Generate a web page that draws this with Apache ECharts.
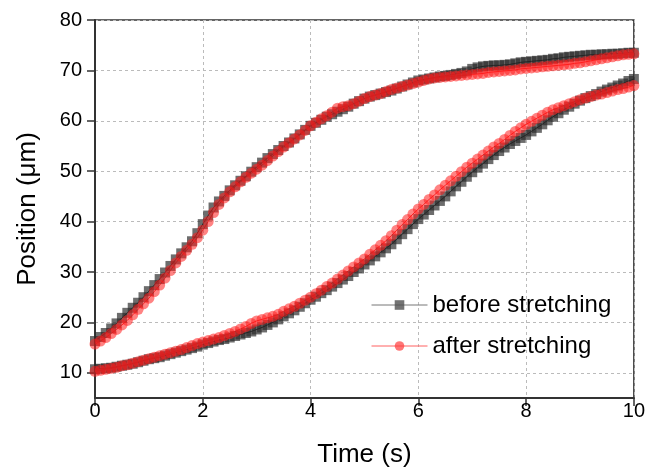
<!DOCTYPE html>
<html>
<head>
<meta charset="utf-8">
<script src="https://cdn.jsdelivr.net/npm/echarts@6/dist/echarts.min.js"></script>
<style>html,body{margin:0;padding:0;background:#fff;}#c{width:648px;height:473px;}</style>
</head>
<body>
<div id="c"></div>
<script>
var time = [0.0,0.1,0.2,0.3,0.4,0.5,0.6,0.7,0.8,0.9,1.0,
1.1,1.2,1.3,1.4,1.5,1.6,1.7,1.8,1.9,2.0,
2.1,2.2,2.3,2.4,2.5,2.6,2.7,2.8,2.9,3.0,
3.1,3.2,3.3,3.4,3.5,3.6,3.7,3.8,3.9,4.0,
4.1,4.2,4.3,4.4,4.5,4.6,4.7,4.8,4.9,5.0,
5.1,5.2,5.3,5.4,5.5,5.6,5.7,5.8,5.9,6.0,
6.1,6.2,6.3,6.4,6.5,6.6,6.7,6.8,6.9,7.0,
7.1,7.2,7.3,7.4,7.5,7.6,7.7,7.8,7.9,8.0,
8.1,8.2,8.3,8.4,8.5,8.6,8.7,8.8,8.9,9.0,
9.1,9.2,9.3,9.4,9.5,9.6,9.7,9.8,9.9,10.0];

// upper trajectory, before stretching
var beforeUpper = [16.3,17.1,17.9,18.8,19.8,20.9,21.9,22.9,23.9,25.0,26.2,
27.4,28.6,29.9,31.2,32.5,33.7,34.9,36.1,37.7,39.5,
41.2,42.8,44.0,45.1,46.2,47.2,48.1,49.0,49.9,50.8,
51.7,52.6,53.4,54.2,55.0,55.7,56.5,57.3,58.2,59.0,
59.6,60.2,60.8,61.3,61.8,62.3,62.8,63.4,63.9,64.4,
64.8,65.1,65.4,65.7,66.0,66.4,66.8,67.2,67.6,68.0,
68.2,68.4,68.6,68.8,68.9,69.1,69.3,69.5,69.8,70.3,
70.6,70.8,70.9,71.0,71.0,71.1,71.2,71.4,71.6,71.7,
71.8,71.9,72.0,72.1,72.3,72.4,72.6,72.7,72.8,72.9,
73.0,73.1,73.1,73.2,73.2,73.3,73.3,73.4,73.5,73.5];

// lower trajectory, before stretching
var beforeLower = [10.7,10.8,10.9,11.0,11.2,11.4,11.6,11.8,12.1,12.4,12.7,
12.9,13.1,13.4,13.7,14.0,14.3,14.6,14.9,15.2,15.6,
15.9,16.2,16.5,16.7,17.0,17.3,17.6,17.9,18.2,18.6,
19.0,19.5,20.0,20.6,21.2,21.8,22.4,23.1,23.8,24.5,
25.1,25.8,26.4,27.1,27.8,28.5,29.2,30.0,30.7,31.5,
32.3,33.1,33.9,34.7,35.5,36.5,37.5,38.5,39.5,40.5,
41.4,42.3,43.2,44.1,45.0,46.0,47.0,47.9,48.9,49.8,
50.7,51.5,52.4,53.2,54.0,54.7,55.4,56.0,56.6,57.2,
57.9,58.6,59.3,60.1,60.8,61.5,62.2,62.8,63.4,64.0,
64.5,64.9,65.3,65.8,66.2,66.6,67.0,67.4,67.9,68.3];

// upper trajectory, after stretching
var afterUpper = [15.7,16.3,17.0,17.8,18.6,19.5,20.4,21.5,22.6,23.7,24.8,
26.1,27.4,28.8,30.3,31.8,33.1,34.3,35.5,36.8,38.3,
40.0,41.8,43.4,44.7,45.9,46.9,47.9,48.8,49.6,50.4,
51.2,52.1,53.0,53.9,54.8,55.6,56.4,57.2,58.1,59.0,
59.7,60.4,61.0,61.7,62.5,62.8,63.0,63.4,63.9,64.4,
64.8,65.1,65.4,65.8,66.2,66.5,66.8,67.1,67.4,67.7,
68.0,68.3,68.5,68.6,68.7,68.8,68.9,69.0,69.1,69.2,
69.3,69.4,69.6,69.7,69.8,69.9,70.0,70.1,70.3,70.4,
70.5,70.6,70.7,70.8,70.9,71.0,71.1,71.2,71.4,71.5,
71.7,71.9,72.1,72.3,72.5,72.7,72.9,73.1,73.2,73.3];

// lower trajectory, after stretching
var afterLower = [10.3,10.5,10.7,10.9,11.1,11.4,11.6,11.9,12.2,12.5,12.8,
13.1,13.4,13.7,14.0,14.3,14.6,15.0,15.4,15.8,16.1,
16.4,16.7,17.0,17.4,17.8,18.2,18.7,19.2,19.8,20.3,
20.6,20.9,21.2,21.6,22.2,22.7,23.2,23.8,24.4,25.0,
25.7,26.4,27.1,27.8,28.6,29.4,30.2,31.0,31.8,32.6,
33.5,34.4,35.3,36.2,37.2,38.3,39.4,40.4,41.5,42.5,
43.4,44.4,45.3,46.3,47.2,48.1,49.0,49.9,50.8,51.6,
52.4,53.2,54.0,54.8,55.5,56.3,57.1,57.9,58.6,59.3,
59.9,60.5,61.1,61.7,62.2,62.6,63.0,63.4,63.8,64.2,
64.5,64.8,65.1,65.3,65.6,65.9,66.2,66.4,66.7,67.0];

var yTicks = [10,20,30,40,50,60,70,80];
var seriesNames = ['before stretching','after stretching'];

function pairs(xs, ys){ return xs.map(function(x,i){ return [x, ys[i]]; }); }

var beforeStyle = {
  type:'line', name:seriesNames[0], symbol:'rect', symbolSize:10,
  itemStyle:{color:'rgba(40,40,40,0.68)', borderWidth:0},
  lineStyle:{color:'#111', width:1}, emphasis:{disabled:true}, animation:false
};
var afterStyle = {
  type:'line', name:seriesNames[1], symbol:'circle', symbolSize:11,
  itemStyle:{color:'rgba(255,30,30,0.55)', borderWidth:0},
  lineStyle:{color:'#ff2020', width:1}, emphasis:{disabled:true}, animation:false
};

var chart = echarts.init(document.getElementById('c'), null, {renderer:'canvas'});
var fontFam = '"Liberation Sans", Arial, sans-serif';
chart.setOption({
  backgroundColor:'#fff',
  animation:false,
  grid:{left:95, right:11, top:20, bottom:74.4, show:true, borderColor:'#333', borderWidth:1.5, backgroundColor:'transparent'},
  legend:{
    data:[
      {name:seriesNames[0], itemStyle:{color:'rgba(80,80,80,0.8)'}, lineStyle:{color:'#777', width:1}},
      {name:seriesNames[1], itemStyle:{color:'rgba(255,60,60,0.7)'}, lineStyle:{color:'#ff6060', width:1}}
    ],
    orient:'vertical', left:366, top:288, itemWidth:56, itemHeight:12, itemGap:17,
    textStyle:{fontSize:24, color:'#000', fontFamily:fontFam},
    selectedMode:false
  },
  xAxis:{
    type:'value', min:0, max:10, interval:2,
    name:'Time (s)', nameLocation:'middle', nameGap:44,
    nameTextStyle:{fontSize:26, color:'#000', fontFamily:fontFam},
    axisLine:{show:true, lineStyle:{color:'#333', width:2}},
    axisTick:{show:true, inside:false, length:8, lineStyle:{color:'#333', width:1.5}},
    axisLabel:{fontSize:20, color:'#000', fontFamily:fontFam, margin:3},
    splitLine:{show:true, lineStyle:{color:'#bbb', type:[3,3], width:1}}
  },
  yAxis:{
    type:'value', min:5, max:80,
    name:'Position (\u03bcm)', nameLocation:'middle', nameGap:54,
    nameTextStyle:{fontSize:26, color:'#000', fontFamily:fontFam},
    axisLine:{show:true, lineStyle:{color:'#333', width:2}},
    axisTick:{show:true, inside:false, length:8, lineStyle:{color:'#333', width:1.5}, customValues:yTicks},
    axisLabel:{fontSize:20, color:'#000', fontFamily:fontFam, margin:13, customValues:yTicks},
    splitLine:{show:true, lineStyle:{color:'#bbb', type:[3,3], width:1}}
  },
  series:[
    Object.assign({data:pairs(time, beforeUpper)}, beforeStyle),
    Object.assign({data:pairs(time, beforeLower)}, beforeStyle),
    Object.assign({data:pairs(time, afterUpper)}, afterStyle),
    Object.assign({data:pairs(time, afterLower)}, afterStyle)
  ]
});
</script>
</body>
</html>
